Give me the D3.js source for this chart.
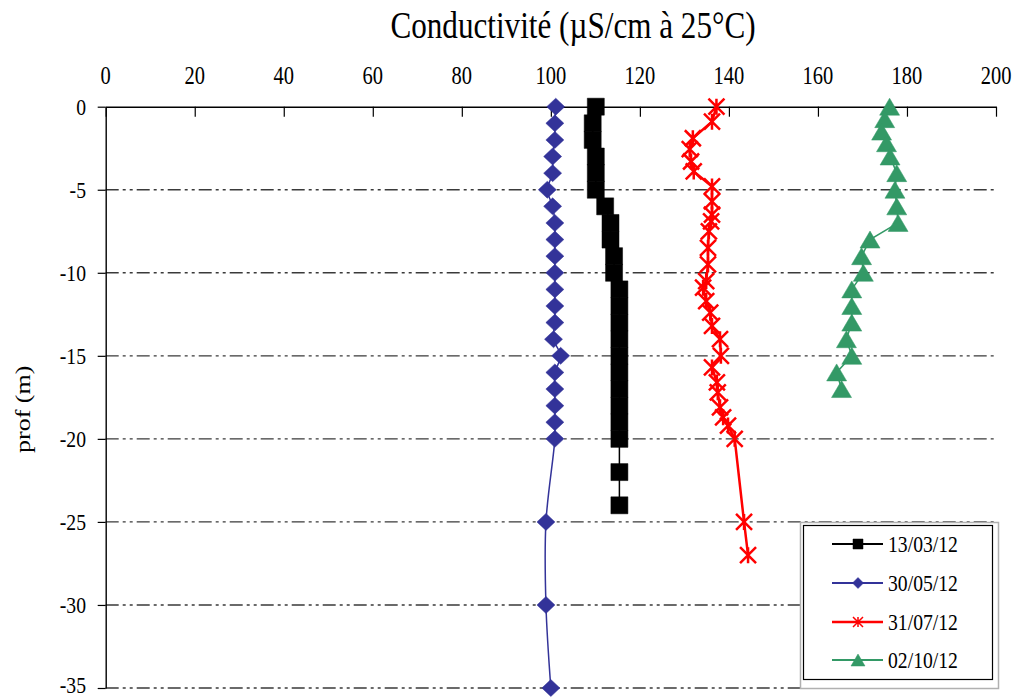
<!DOCTYPE html>
<html>
<head>
<meta charset="utf-8">
<script src="https://cdn.jsdelivr.net/npm/d3@7"></script>
<style>
  html, body { margin: 0; padding: 0; background: #fff; }
  svg text { font-family: "Liberation Serif", "Times New Roman", serif; fill: #000; }
</style>
</head>
<body>
<svg id="chart" width="1023" height="699"></svg>
<script>
// Conductivity profiles (µS/cm at 25°C) versus depth (m) for four sampling dates
const seriesNames = ["13/03/12", "30/05/12", "31/07/12", "02/10/12"];

const depth1303 = [0, -1, -2, -3, -4, -5, -6, -7, -8, -9, -10, -11, -12, -13, -14, -15, -16, -17, -18, -19, -20, -22, -24];
const cond1303  = [110.1, 109.4, 109.4, 110.1, 110.1, 110.1, 112.2, 113.4, 113.4, 114.2, 114.2, 115.4, 115.4, 115.4, 115.4, 115.4, 115.4, 115.4, 115.4, 115.4, 115.4, 115.4, 115.4];

const depth3005 = [0, -1, -2, -3, -4, -5, -6, -7, -8, -9, -10, -11, -12, -13, -14, -15, -16, -17, -18, -19, -20, -25, -30, -35];
const cond3005  = [101.1, 100.9, 100.9, 100.4, 100.4, 99.2, 100.4, 100.9, 100.9, 100.9, 100.9, 100.9, 100.9, 100.9, 100.6, 102.2, 100.9, 100.9, 100.9, 100.9, 100.9, 98.9, 98.9, 100.0];

const depth3107 = [0, -0.9, -1.9, -2.55, -3.3, -3.9, -4.8, -5.7, -6.5, -6.9, -7.5, -8.5, -9.5, -10.5, -10.9, -11.7, -12.4, -13.2, -14, -15, -15.7, -16.6, -17.2, -18.1, -18.7, -19.2, -20, -25, -27];
const cond3107  = [137.2, 136.2, 131.9, 131.2, 131.5, 132.1, 136.2, 136.2, 136.2, 136.0, 135.5, 135.3, 135.3, 134.9, 134.2, 134.9, 135.8, 136.2, 138.0, 138.2, 136.2, 137.3, 137.5, 138.0, 138.7, 139.8, 141.3, 143.4, 144.3];

const depth0210 = [0, -0.75, -1.5, -2.2, -3, -4, -5, -6, -7, -8, -9, -10, -11, -12, -13, -14, -15, -16, -17];
const cond0210  = [176.1, 175.0, 174.3, 175.4, 176.2, 177.7, 177.3, 177.7, 178.0, 171.7, 169.8, 170.2, 167.6, 167.6, 167.6, 166.4, 167.6, 164.2, 165.3];

const xTicks = [0, 20, 40, 60, 80, 100, 120, 140, 160, 180, 200];
const yTicks = [0, -5, -10, -15, -20, -25, -30, -35];
const gridDepths = [-5, -10, -15, -20, -25, -30, -35];

const titleText = "Conductivité (µS/cm à 25°C)";
const yTitle = "prof (m)";

const svg = d3.select("#chart");
const x = d3.scaleLinear().domain([0, 200]).range([105.7, 996]);
const y = d3.scaleLinear().domain([0, -35]).range([106.7, 688]);

// text in this figure is drawn slightly narrow
const squeeze = 0.82;

// dash-dot-dot horizontal grid
svg.append("g").selectAll("line").data(gridDepths).join("line")
  .attr("x1", x(0)).attr("x2", x(200))
  .attr("y1", d => y(d)).attr("y2", d => y(d))
  .attr("stroke", "#3a3a3a").attr("stroke-width", 1.4)
  .attr("stroke-dasharray", "13,4,3,4,3,4");

// top axis (ticks pointing into the plot)
const topAxis = svg.append("g").attr("transform", `translate(0,${y(0)})`)
  .call(d3.axisTop(x).tickValues(xTicks).tickSizeInner(-10).tickSizeOuter(0).tickFormat(""));
topAxis.select(".domain").attr("stroke", "#000").attr("stroke-width", 1.4);
topAxis.selectAll(".tick line").attr("stroke", "#000").attr("stroke-width", 1.2);

svg.append("g").selectAll("text").data(xTicks).join("text")
  .attr("transform", d => `translate(${x(d)},84) scale(${squeeze},1)`)
  .attr("text-anchor", "middle").attr("font-size", 25)
  .text(d => d);

// left axis (ticks pointing outwards)
const leftAxis = svg.append("g").attr("transform", `translate(${x(0)},0)`)
  .call(d3.axisLeft(y).tickValues(yTicks).tickSizeInner(8).tickSizeOuter(0).tickFormat(""));
leftAxis.select(".domain").attr("stroke", "#000").attr("stroke-width", 1.4);
leftAxis.selectAll(".tick line").attr("stroke", "#000").attr("stroke-width", 1.2);

// the lowest label sits at the lower edge, keep it inside the frame
svg.append("g").selectAll("text").data(yTicks).join("text")
  .attr("transform", d => `translate(86,${Math.min(y(d) + 8, 693)}) scale(${squeeze},1)`)
  .attr("text-anchor", "end").attr("font-size", 24)
  .text(d => d);

// titles
svg.append("text")
  .attr("transform", `translate(573,38) scale(${squeeze},1)`)
  .attr("text-anchor", "middle").attr("font-size", 38)
  .text(titleText);

svg.append("text")
  .attr("transform", `translate(30,${(y(0) + y(-35)) / 2 + 12}) rotate(-90) scale(1,${squeeze})`)
  .attr("text-anchor", "middle").attr("font-size", 26)
  .text(yTitle);

// marker shapes (path strings around 0,0)
function squarePath(s) { const h = s / 2; return `M${-h},${-h}H${h}V${h}H${-h}Z`; }
function diamondPath(w, h) { return `M0,${-h / 2}L${w / 2},0L0,${h / 2}L${-w / 2},0Z`; }
function trianglePath(w, h) { return `M0,${-h / 2}L${w / 2},${h / 2}L${-w / 2},${h / 2}Z`; }
function starPath(s) { const h = s / 2; return `M${-h},${-h}L${h},${h}M${-h},${h}L${h},${-h}M0,${-h}L0,${h}`; }

const series = [
  { name: seriesNames[0], depth: depth1303, cond: cond1303, color: "#000000", width: 1.5, curve: d3.curveLinear,
    marker: () => squarePath(17), legendMarker: () => squarePath(10), filled: true },
  { name: seriesNames[1], depth: depth3005, cond: cond3005, color: "#333399", width: 1.5, curve: d3.curveCatmullRom,
    marker: () => diamondPath(18, 17), legendMarker: () => diamondPath(11, 11), filled: true },
  { name: seriesNames[2], depth: depth3107, cond: cond3107, color: "#ff0000", width: 2.5, curve: d3.curveLinear,
    marker: () => starPath(16), legendMarker: () => starPath(10), filled: false },
  { name: seriesNames[3], depth: depth0210, cond: cond0210, color: "#339966", width: 1.5, curve: d3.curveLinear,
    marker: () => trianglePath(20, 17), legendMarker: () => trianglePath(14, 12), filled: true }
];

const line = d3.line().x(d => x(d[1])).y(d => y(d[0]));

series.forEach(s => {
  const pts = s.depth.map((d, i) => [d, s.cond[i]]);
  svg.append("path").datum(pts)
    .attr("d", line.curve(s.curve))
    .attr("fill", "none").attr("stroke", s.color).attr("stroke-width", s.width);
  svg.append("g").selectAll("path").data(pts).join("path")
    .attr("transform", d => `translate(${x(d[1])},${y(d[0])})`)
    .attr("d", s.marker())
    .attr("fill", s.filled ? s.color : "none")
    .attr("stroke", s.color)
    .attr("stroke-width", s.filled ? 0.5 : 2.5);
});

// legend
const lg = svg.append("g");
lg.append("rect").attr("x", 800.5).attr("y", 522.5).attr("width", 198).attr("height", 166)
  .attr("fill", "#fff").attr("stroke", "#b0b0b0").attr("stroke-width", 1.5);
lg.append("rect").attr("x", 803.5).attr("y", 525.5).attr("width", 189).attr("height", 154)
  .attr("fill", "#fff").attr("stroke", "#000").attr("stroke-width", 1.2);

const rowY = [544, 583, 622, 660];
series.forEach((s, i) => {
  const g = lg.append("g").attr("transform", `translate(0,${rowY[i]})`);
  g.append("line").attr("x1", 832).attr("x2", 883).attr("y1", 0).attr("y2", 0)
    .attr("stroke", s.color).attr("stroke-width", s.width === 2.5 ? 2.5 : 2);
  g.append("path").attr("transform", "translate(858,0)").attr("d", s.legendMarker())
    .attr("fill", s.filled ? s.color : "none").attr("stroke", s.color)
    .attr("stroke-width", s.filled ? 0.5 : 1.5);
  g.append("text").attr("transform", `translate(888,8) scale(${squeeze},1)`)
    .attr("font-size", 24).text(s.name);
});
</script>
</body>
</html>
